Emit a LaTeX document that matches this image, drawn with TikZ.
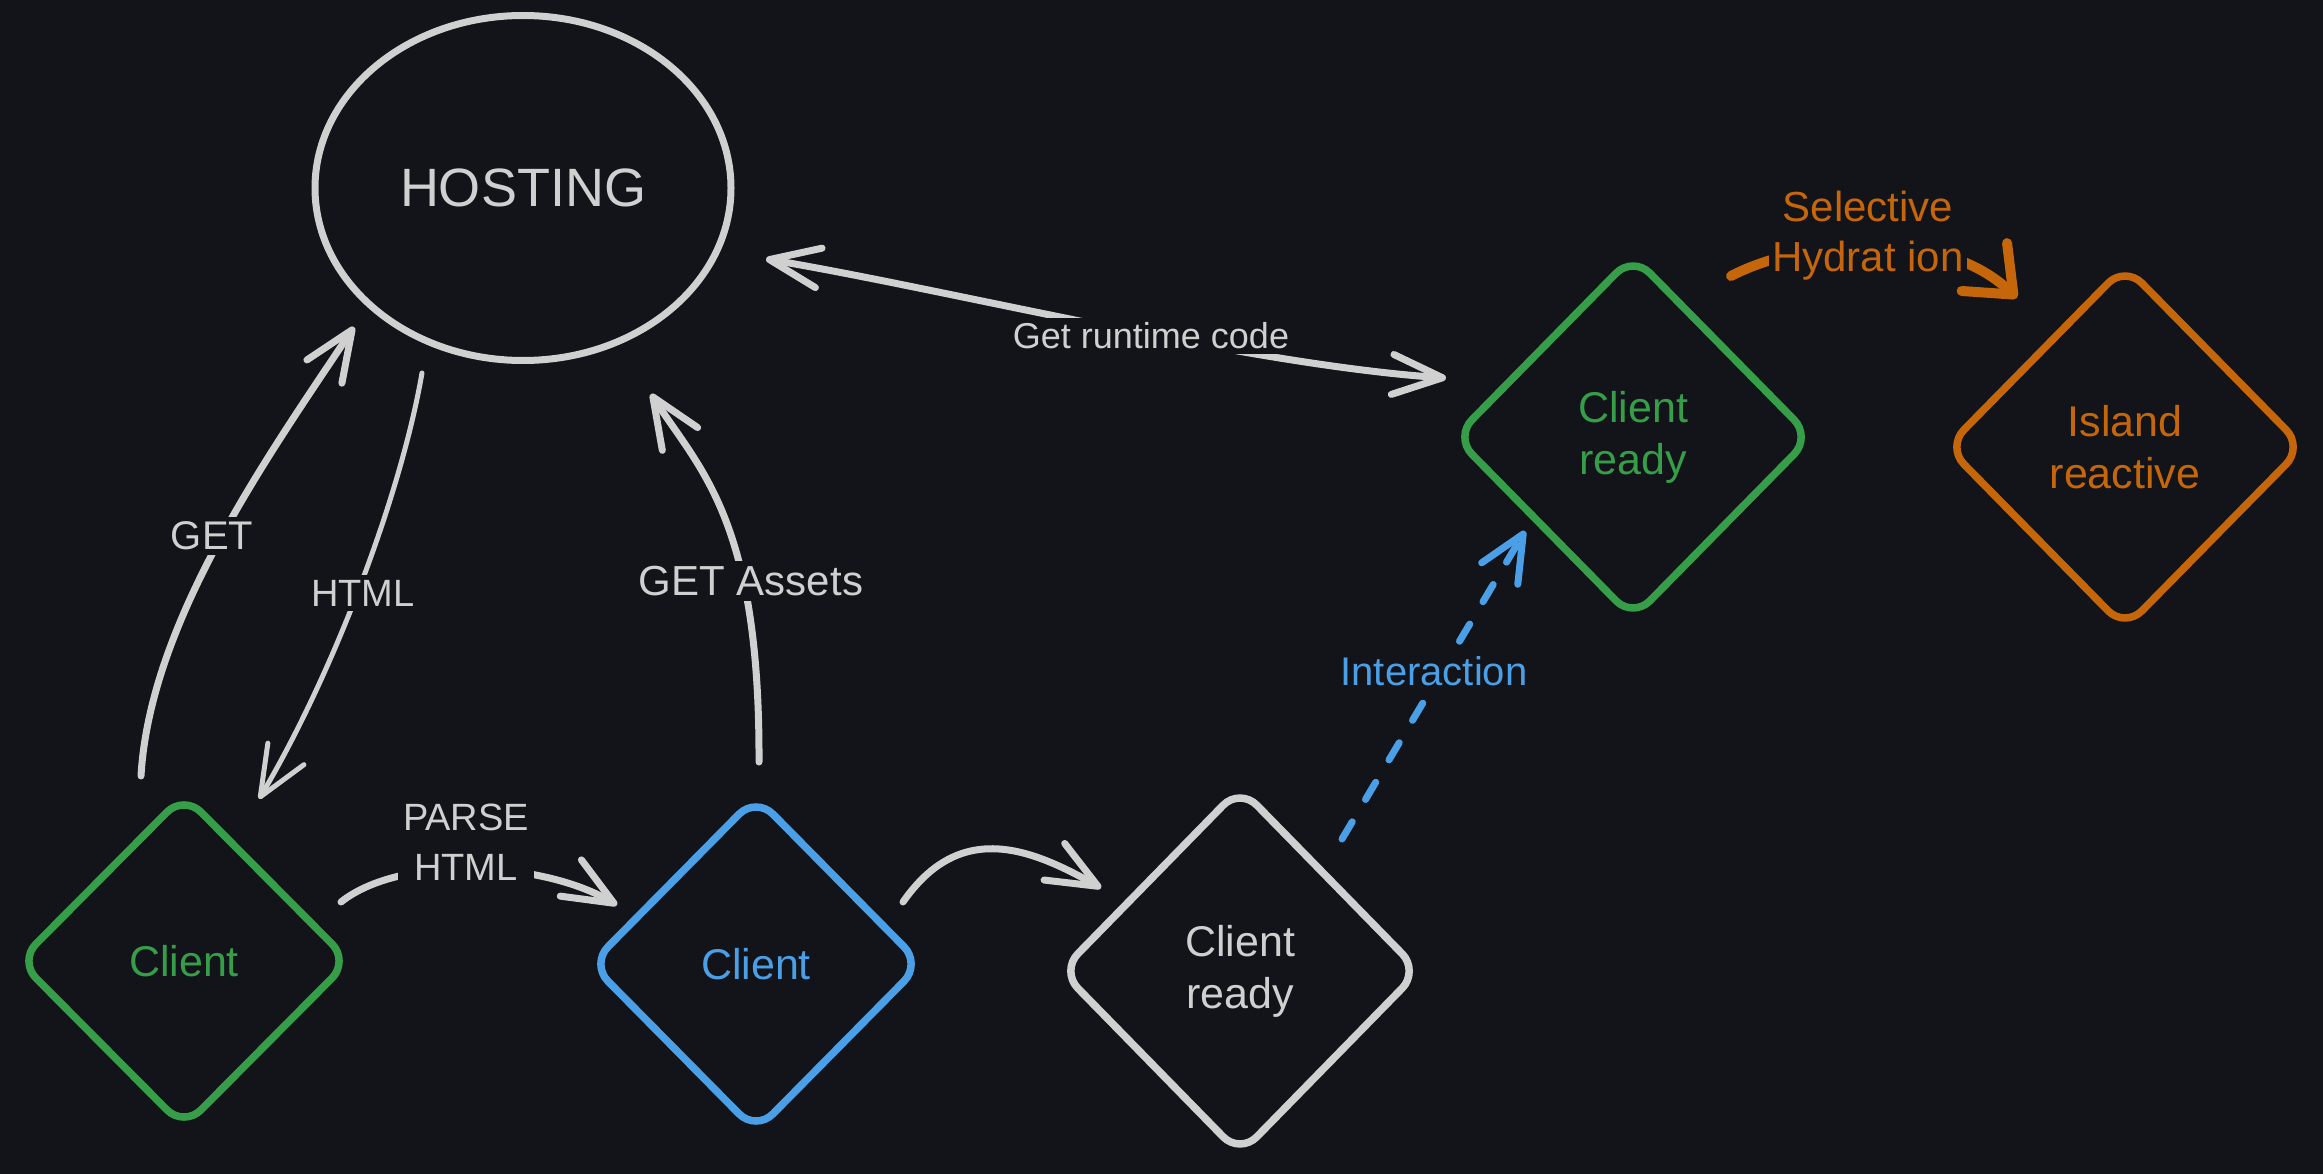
\documentclass[tikz,border=0pt]{standalone}
\usepackage{fontspec}
\setmainfont{Liberation Sans}
\usetikzlibrary{arrows.meta,shapes.geometric,calc}
\definecolor{bg}{HTML}{121419}
\definecolor{lg}{HTML}{D0D0D0}
\definecolor{gr}{HTML}{369E48}
\definecolor{bl}{HTML}{4A9FE6}
\definecolor{og}{HTML}{C6660A}
\tikzset{
  dia/.style={shape=diamond, draw=#1, text=#1, line width=7.5pt, rounded corners=24pt,
    inner sep=0pt, outer sep=0pt, align=center, font=\fontsize{43}{52}\selectfont},
  conn/.style={draw=lg, line width=7pt, line cap=round, line join=round},
  thinconn/.style={draw=lg, line width=5pt, line cap=round, line join=round},
  lbl/.style={fill=bg, text=lg, inner sep=5pt, align=center},
  barb/.style={-{Straight Barb[length=50pt,width=42pt,round]}},
  dbarb/.style={{Straight Barb[length=50pt,width=40pt,round]}-{Straight Barb[length=50pt,width=40pt,round]}},
}
\begin{document}
\begin{tikzpicture}[x=1pt,y=-1pt]
\fill[bg] (0,0) rectangle (2323,1174);
\useasboundingbox (0,0) rectangle (2323,1174);

% nodes
\node[shape=ellipse, draw=lg, line width=7pt, minimum width=416pt, minimum height=345pt,
  inner sep=0pt, outer sep=0pt, text=lg, font=\fontsize{54}{60}\selectfont] (host) at (523,188) {HOSTING};
\node[dia=gr, minimum width=330pt, minimum height=332pt] (c1) at (184,961) {Client};
\node[dia=bl, minimum width=330pt, minimum height=334pt] (c2) at (756,964) {Client};
\node[dia=lg, minimum width=358pt, minimum height=366pt] (c3) at (1240,971) {Client\\ready};
\node[dia=gr, minimum width=356pt, minimum height=362pt] (c4) at (1633,437) {Client\\ready};
\node[dia=og, minimum width=356pt, minimum height=362pt] (c5) at (2125,447) {Island\\reactive};

% GET
\draw[conn, barb] ($(c1)+(-43,-185)$) .. controls (150,620) and (271,452) .. ($(host)+(-169,139)$);
\node[lbl, font=\fontsize{40}{46}\selectfont] (lget) at (212,536) {GET};

% HTML
\draw[thinconn, barb] ($(host)+(-101,185)$) .. controls (400,500) and (330,680) .. ($(c1)+(75,-162)$);
\node[lbl, font=\fontsize{38}{44}\selectfont] (lhtml) at (363,593) {HTML};

% GET Assets
\draw[conn, barb] ($(c2)+(3,-202)$) .. controls (760,520) and (700,470) .. ($(host)+(128,206)$);
\node[lbl, font=\fontsize{42}{48}\selectfont] (lassets) at (751,581) {GET Assets};

% Get runtime code
\draw[conn, dbarb] ($(host)+(243,71)$) .. controls (950,290) and (1250,365) .. ($(c4)+(-187,-59)$);
\node[lbl, font=\fontsize{36}{42}\selectfont] (lrun) at (1151,336) {Get runtime code};

% PARSE HTML
\draw[conn, barb] ($(c1)+(157,-59)$) .. controls (400,855) and (540,860) .. ($(c2)+(-139,-59)$);
\node[lbl, font=\fontsize{38}{50}\selectfont] (lparse) at (466,842) {PARSE\\HTML};

% blue client -> client ready
\draw[conn, barb] ($(c2)+(147,-62)$) .. controls (960,820) and (1030,848) .. ($(c3)+(-139,-83)$);

% Interaction
\draw[draw=bl, line width=7pt, line cap=round, dash pattern=on 20pt off 26pt,
  -{Straight Barb[length=46pt,width=42pt,round]}] ($(c3)+(102,-132)$) -- ($(c4)+(-108,94)$);
\node[lbl, text=bl, font=\fontsize{40}{46}\selectfont] (linter) at (1434,671) {Interaction};

% Selective Hydration
\draw[draw=og, line width=10pt, line cap=round, line join=round,
  -{Straight Barb[length=40pt,width=66pt,round]}] ($(c4)+(98,-161)$) .. controls (1800,240) and (1940,225) .. ($(c5)+(-108,-149)$);
\node[lbl, text=og, inner sep=3pt, font=\fontsize{42}{50}\selectfont] (lsel) at (1868,236) {Selective\\Hydrat ion};
\end{tikzpicture}
\end{document}
